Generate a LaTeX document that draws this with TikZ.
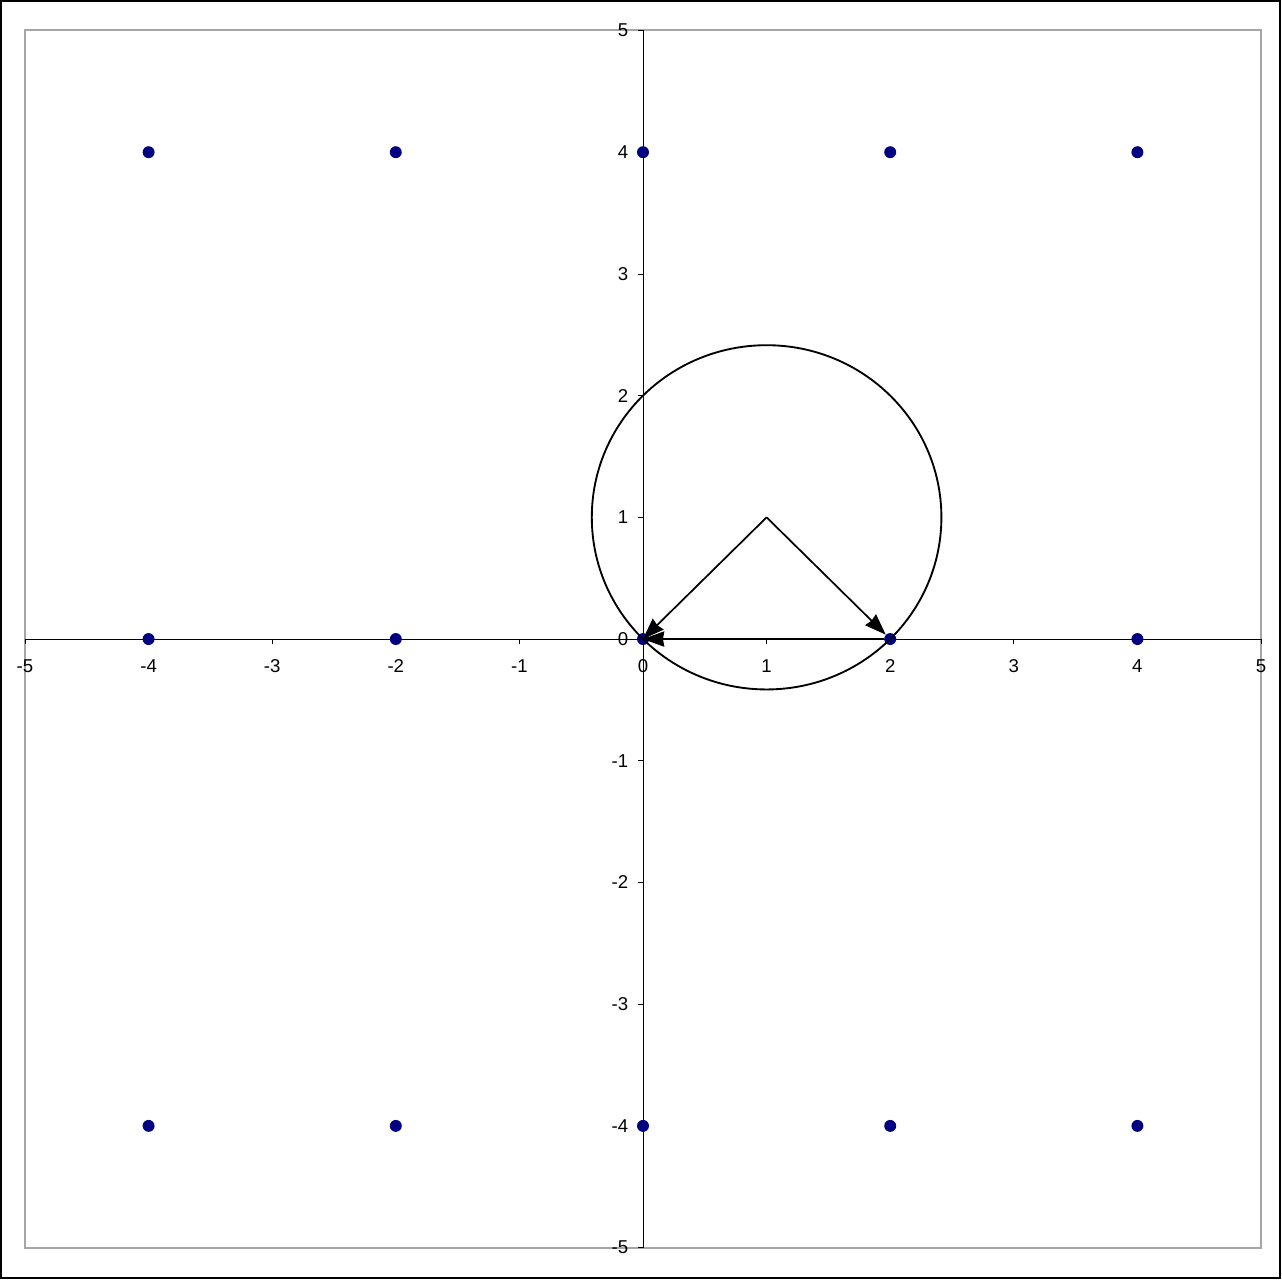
\documentclass[tikz,border=0pt]{standalone}
\usepackage{fontspec}
\setmainfont{Liberation Sans}
\usetikzlibrary{arrows.meta}
\definecolor{navy}{RGB}{0,0,128}

\begin{document}
\begin{tikzpicture}[
  x=3.270cm, y=3.220cm,
  >={Stealth[length=16pt,width=11.5pt,inset=1pt]},
  every node/.style={font=\fontsize{14}{16}\selectfont},
  dot/.style={circle,fill=navy,draw=none,inner sep=0pt,minimum size=9pt},
  xlabel/.style={anchor=north,inner sep=0pt,yshift=-15pt},
  ylabel/.style={anchor=east,inner sep=0pt,xshift=-11pt},
  vec/.style={->,line width=1.3pt}
]%
  \useasboundingbox (-5.2023,-5.2588) rectangle (5.1699,5.2506);
  % frames
  \draw[line width=1.5pt] (-5.194,-5.2465) rectangle (5.154,5.2424);
  \draw[gray!70,line width=1.5pt] (-5,-5) rectangle (5,5);

  % axes
  \draw[line width=0.5pt] (-5,0) -- (5,0);
  \draw[line width=0.5pt] (0,-5) -- (0,5);
  \foreach \k in {-5,...,5}{
    \draw[line width=0.5pt] (\k,0) -- (\k,-0.041);
    \draw[line width=0.5pt] (0,\k) -- (-0.04,\k);
    \node[xlabel] (xl\k) at (\k,0) {\k};
    \node[ylabel] (yl\k) at (0,\k) {\k};
  }

  % lattice points
  \foreach \i in {-4,-2,0,2,4}
    \foreach \j in {-4,0,4}
      \node[dot] (p\i\j) at (\i,\j) {};

  % circle and vectors
  \coordinate (c) at (1,1);
  \draw[line width=1.4pt] (c) ellipse [x radius=1.4142, y radius=1.4142];
  \draw[vec] (c) -- (p00.center);
  \draw[vec] (c) -- (p20);
  \draw[vec] (p20) -- (p00.center);
\end{tikzpicture}
\end{document}
